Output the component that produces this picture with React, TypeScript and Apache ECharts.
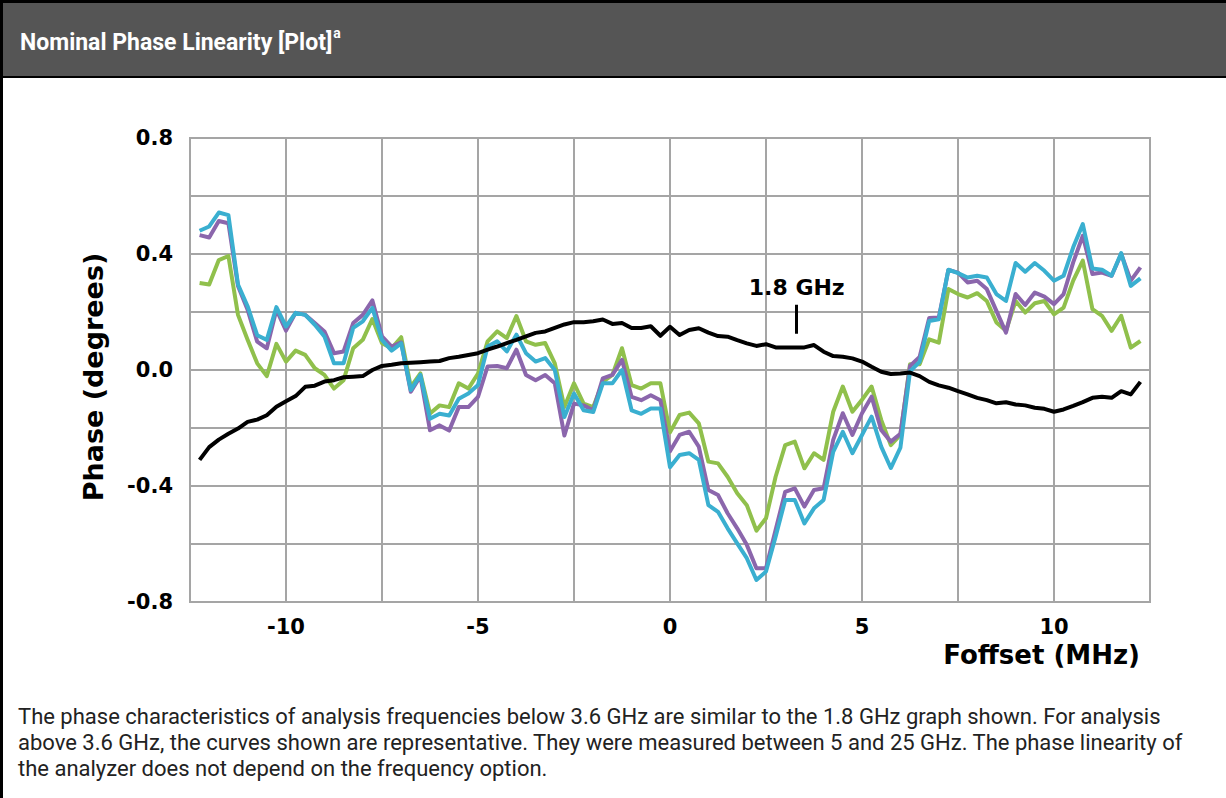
import React, { useEffect, useRef } from "react";
import * as echarts from "echarts";

// Frequency-offset sampling of the traces (MHz)
const OFFSET_START = -12.25;
const OFFSET_STEP = 0.25;

// Phase (degrees) for each trace, one value per 0.25 MHz step from -12.25 to 12.25
const purpleTrace = [
  0.465, 0.457, 0.514, 0.506, 0.29, 0.208, 0.098, 0.075, 0.208, 0.136, 0.197, 0.19, 0.162, 0.133, 0.058, 0.064, 0.162, 0.19, 0.24, 0.116, 0.081, 0.095, -0.075, -0.021, -0.208,
  -0.191, -0.209, -0.128, -0.128, -0.093, 0.012, 0.014, 0.006, 0.07, -0.017, -0.035, -0.017, -0.046, -0.226, -0.116, -0.122, -0.139, -0.029, -0.017, 0.035, -0.093, -0.104, -0.087, -0.104, -0.28,
  -0.224, -0.213, -0.264, -0.414, -0.431, -0.494, -0.546, -0.603, -0.684, -0.684, -0.552, -0.42, -0.408, -0.471, -0.414, -0.408, -0.241, -0.149, -0.224, -0.149, -0.092, -0.207, -0.247, -0.22, 0.014,
  0.045, 0.179, 0.181, 0.345, 0.336, 0.302, 0.308, 0.279, 0.204, 0.129, 0.262, 0.224, 0.267, 0.253, 0.227, 0.262, 0.371, 0.463, 0.331, 0.336, 0.325, 0.4, 0.308, 0.354,
];
const cyanTrace = [
  0.48, 0.495, 0.543, 0.534, 0.295, 0.22, 0.12, 0.104, 0.217, 0.15, 0.197, 0.19, 0.156, 0.116, 0.023, 0.023, 0.145, 0.168, 0.214, 0.104, 0.067, 0.092, -0.069, -0.017, -0.168,
  -0.151, -0.157, -0.099, -0.081, -0.052, 0.081, 0.099, 0.064, 0.122, 0.058, 0.029, 0.041, 0.0, -0.162, -0.081, -0.139, -0.145, -0.046, -0.046, 0.0, -0.139, -0.151, -0.133, -0.133, -0.335,
  -0.293, -0.287, -0.31, -0.466, -0.489, -0.546, -0.598, -0.649, -0.724, -0.695, -0.575, -0.448, -0.448, -0.529, -0.477, -0.448, -0.282, -0.213, -0.287, -0.224, -0.161, -0.264, -0.338, -0.268, -0.005,
  0.028, 0.169, 0.175, 0.346, 0.334, 0.319, 0.325, 0.319, 0.262, 0.238, 0.369, 0.339, 0.369, 0.342, 0.308, 0.325, 0.423, 0.503, 0.35, 0.346, 0.325, 0.403, 0.29, 0.316,
];
const greenTrace = [
  0.3, 0.295, 0.379, 0.393, 0.19, 0.104, 0.023, -0.021, 0.09, 0.029, 0.067, 0.052, 0.006, -0.017, -0.064, -0.035, 0.075, 0.104, 0.176, 0.092, 0.075, 0.113, -0.058, -0.012, -0.15,
  -0.122, -0.128, -0.046, -0.064, -0.012, 0.099, 0.133, 0.11, 0.186, 0.099, 0.087, 0.093, 0.023, -0.128, -0.046, -0.116, -0.128, -0.041, -0.017, 0.075, -0.052, -0.064, -0.046, -0.046, -0.215,
  -0.155, -0.147, -0.184, -0.316, -0.322, -0.368, -0.425, -0.466, -0.554, -0.511, -0.368, -0.259, -0.247, -0.339, -0.287, -0.31, -0.144, -0.057, -0.144, -0.103, -0.057, -0.172, -0.259, -0.224, 0.02,
  0.02, 0.106, 0.094, 0.279, 0.262, 0.25, 0.265, 0.238, 0.164, 0.135, 0.238, 0.198, 0.23, 0.238, 0.192, 0.215, 0.308, 0.377, 0.21, 0.187, 0.135, 0.187, 0.077, 0.1,
];
const ghz18Trace = [
  -0.31, -0.266, -0.24, -0.22, -0.202, -0.179, -0.171, -0.156, -0.127, -0.108, -0.09, -0.058, -0.054, -0.04, -0.035, -0.025, -0.023, -0.021, 0.0, 0.014, 0.018, 0.023, 0.025, 0.027, 0.029,
  0.031, 0.041, 0.046, 0.052, 0.058, 0.07, 0.081, 0.093, 0.104, 0.116, 0.128, 0.133, 0.145, 0.157, 0.165, 0.165, 0.168, 0.174, 0.159, 0.162, 0.145, 0.145, 0.151, 0.118, 0.149,
  0.121, 0.138, 0.144, 0.129, 0.117, 0.115, 0.103, 0.092, 0.083, 0.089, 0.078, 0.078, 0.078, 0.078, 0.086, 0.063, 0.048, 0.046, 0.04, 0.029, 0.011, -0.006, -0.014, -0.012, -0.009,
  -0.021, -0.041, -0.053, -0.061, -0.073, -0.084, -0.096, -0.104, -0.115, -0.111, -0.119, -0.122, -0.13, -0.134, -0.144, -0.136, -0.124, -0.111, -0.096, -0.092, -0.096, -0.073, -0.084, -0.041,
];

// Annotation for the 1.8 GHz curve: offset (MHz) and phase span of the pointer
const ghzLabelText = "1.8 GHz";
const ghzLabelOffset = 3.3;
const ghzPointerSpan = [0.125, 0.225];

// Axis settings
const xMin = -12.5;
const xMax = 12.5;
const xStep = 2.5;
const xLabelEvery = 5;
const yMin = -0.8;
const yMax = 0.8;
const yStep = 0.2;
const yLabelEvery = 0.4;

const titleText = "Nominal Phase Linearity [Plot]";
const titleSup = "a";
const yAxisTitle = "Phase (degrees)";
const xAxisTitle = "Foffset (MHz)";
const captionLines = [
  "The phase characteristics of analysis frequencies below 3.6 GHz are similar to the 1.8 GHz graph shown. For analysis",
  "above 3.6 GHz, the curves shown are representative. They were measured between 5 and 25 GHz. The phase linearity of",
  "the analyzer does not depend on the frequency option.",
];

const toPairs = (vals: number[]) => vals.map((v, i) => [OFFSET_START + i * OFFSET_STEP, v]);

const GRID_COLOR = "#a5a5a5";
const BOLD_FONT = '"DejaVu Sans", sans-serif';

export default function App() {
  const ref = useRef<HTMLDivElement>(null);
  useEffect(() => {
    if (!ref.current) return;
    const chart = echarts.init(ref.current, undefined, { renderer: "svg" });
    const lineSeries = (name: string, data: number[], color: string, extra: any = {}) => ({
      name,
      type: "line",
      data: toPairs(data),
      showSymbol: false,
      symbol: "none",
      lineStyle: { color, width: 4, join: "round" },
      itemStyle: { color },
      z: 2,
      ...extra,
    });
    chart.setOption({
      animation: false,
      backgroundColor: "#ffffff",
      grid: {
        left: 190,
        right: 76,
        top: 138,
        bottom: 196,
        show: true,
        borderColor: GRID_COLOR,
        borderWidth: 2,
      },
      xAxis: {
        type: "value",
        min: xMin,
        max: xMax,
        interval: xStep,
        axisLine: { show: true, onZero: false, lineStyle: { color: GRID_COLOR, width: 2 } },
        axisTick: { show: false },
        splitLine: { show: true, lineStyle: { color: GRID_COLOR, width: 2 } },
        axisLabel: {
          margin: 14,
          color: "#000",
          fontFamily: BOLD_FONT,
          fontWeight: "bold",
          fontSize: 21,
          showMinLabel: true,
          showMaxLabel: true,
          formatter: (v: number) => {
            const r = Math.round(v * 100) / 100;
            return Math.abs(r / xLabelEvery - Math.round(r / xLabelEvery)) < 1e-6 ? String(r) : "";
          },
        },
      },
      yAxis: {
        type: "value",
        min: yMin,
        max: yMax,
        interval: yStep,
        axisLine: { show: true, lineStyle: { color: GRID_COLOR, width: 2 } },
        axisTick: { show: false },
        splitLine: { show: true, lineStyle: { color: GRID_COLOR, width: 2 } },
        axisLabel: {
          margin: 17,
          color: "#000",
          fontFamily: BOLD_FONT,
          fontWeight: "bold",
          fontSize: 21,
          formatter: (v: number) => {
            const r = Math.round(v * 10) / 10;
            return Math.abs(r / yLabelEvery - Math.round(r / yLabelEvery)) < 1e-6
              ? (r === 0 ? 0 : r).toFixed(1)
              : "";
          },
        },
      },
      series: [
        lineSeries(">3.6 GHz (a)", greenTrace, "#90c04c"),
        lineSeries(">3.6 GHz (b)", purpleTrace, "#8b66ac"),
        lineSeries(">3.6 GHz (c)", cyanTrace, "#3aafd0"),
        lineSeries("1.8 GHz", ghz18Trace, "#000000", {
          z: 3,
          markLine: {
            silent: true,
            symbol: ["none", "none"],
            lineStyle: { color: "#000", width: 3, type: "solid" },
            label: {
              show: true,
              position: "end",
              distance: 6,
              formatter: ghzLabelText,
              color: "#000",
              fontFamily: BOLD_FONT,
              fontWeight: "bold",
              fontSize: 22,
            },
            data: [
              [
                { coord: [ghzLabelOffset, ghzPointerSpan[0]] },
                { coord: [ghzLabelOffset, ghzPointerSpan[1]] },
              ],
            ],
          },
        }),
      ],
      graphic: [
        { type: "rect", shape: { x: 0, y: 0, width: 1226, height: 78 }, style: { fill: "#000" }, z: 10 },
        { type: "rect", shape: { x: 3, y: 3, width: 1223, height: 73 }, style: { fill: "#555555" }, z: 11 },
        { type: "rect", shape: { x: 0, y: 0, width: 3, height: 798 }, style: { fill: "#000" }, z: 12 },
        {
          type: "text",
          x: 20,
          y: 40,
          z: 12,
          style: {
            text: `{m|${titleText}}{s|${titleSup}}`,
            verticalAlign: "middle",
            align: "left",
            rich: {
              m: { fill: "#ffffff", fontFamily: "Roboto, sans-serif", fontWeight: "bold", fontSize: 23, lineHeight: 28, verticalAlign: "bottom" },
              s: { fill: "#ffffff", fontFamily: "Roboto, sans-serif", fontWeight: "bold", fontSize: 14, lineHeight: 28, verticalAlign: "top", padding: [0, 0, 0, 1] },
            },
          },
        },
        {
          type: "text",
          x: 93,
          y: 377,
          rotation: Math.PI / 2,
          z: 12,
          style: {
            text: yAxisTitle,
            fill: "#000",
            font: 'bold 27px "DejaVu Sans", sans-serif',
            align: "center",
            verticalAlign: "middle",
          },
        },
        {
          type: "text",
          x: 1140,
          y: 655,
          z: 12,
          style: {
            text: xAxisTitle,
            fill: "#000",
            font: 'bold 26px "DejaVu Sans", sans-serif',
            align: "right",
            verticalAlign: "middle",
          },
        },
        {
          type: "text",
          x: 18,
          y: 703,
          z: 12,
          style: {
            text: captionLines.join("\n"),
            fill: "#222222",
            font: '22px Roboto, sans-serif',
            lineHeight: 26,
            align: "left",
            verticalAlign: "top",
          },
        },
      ],
    });
    return () => chart.dispose();
  }, []);
  return (
    <div
      ref={ref}
      style={{ position: "absolute", left: 0, top: 0, width: 1226, height: 798, background: "#fff" }}
    />
  );
}
